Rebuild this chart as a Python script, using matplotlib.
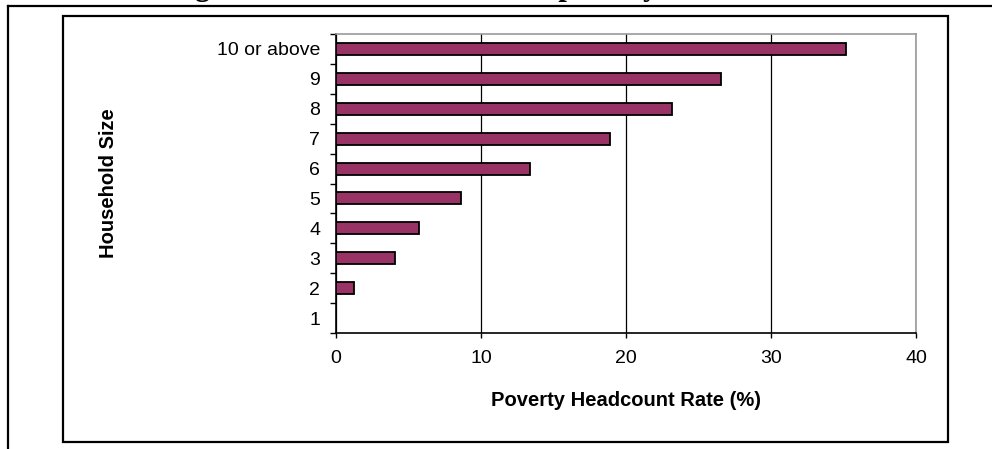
import matplotlib
matplotlib.use("Agg")
import matplotlib.pyplot as plt
from matplotlib.patches import Rectangle
from matplotlib.lines import Line2D
import numpy as np

# household size categories (bottom to top) and poverty headcount rate (%)
sizes = ['1', '2', '3', '4', '5', '6', '7', '8', '9', '10 or above']
rates = [0.0, 1.25, 4.05, 5.7, 8.6, 13.4, 18.9, 23.2, 26.55, 35.15]
xticks = [0, 10, 20, 30, 40]

W, H = 992, 449
plt.rcParams['font.family'] = ['Liberation Sans', 'DejaVu Sans']

fig = plt.figure(figsize=(W / 100, H / 100), dpi=100)

# plot area in pixel coords: x 336..916, y 34..333
left, right, top, bottom = 336, 916, 34, 333
ax = fig.add_axes([left / W, 1 - bottom / H, (right - left) / W, (bottom - top) / H])

y = np.arange(len(sizes))
ax.barh(y, rates, height=0.4, color='#993366', edgecolor='black', linewidth=1.3, zorder=3)

ax.set_xlim(0, 40)
ax.set_ylim(-0.5, len(sizes) - 0.5)
ax.set_xticks(xticks)
ax.set_xticklabels([str(t) for t in xticks], fontsize=14)
ax.set_yticks(y)
ax.set_yticklabels(sizes, fontsize=14)
ax.set_yticks(np.arange(len(sizes) + 1) - 0.5, minor=True)
ax.tick_params(axis='y', which='major', length=0, pad=11.5)
ax.tick_params(axis='y', which='minor', length=4.3, width=1, direction='out')
ax.tick_params(axis='x', which='major', length=3.5, width=1, direction='out', pad=9)

ax.grid(axis='x', color='black', linewidth=0.9, zorder=0)
ax.set_axisbelow(True)
for s in ['left', 'bottom']:
    ax.spines[s].set_color('black')
    ax.spines[s].set_linewidth(1.2)
for s in ['top', 'right']:
    ax.spines[s].set_color('#999999')
    ax.spines[s].set_linewidth(1.2)

ax.set_xlabel('Poverty Headcount Rate (%)', fontsize=14.5, fontweight='bold')
ax.xaxis.set_label_coords(0.5, (bottom - 400) / (bottom - top))
ax.xaxis.label.set_va('center')
ax.set_ylabel('Household Size', fontsize=14.5, fontweight='bold')
ax.yaxis.set_label_coords((108 - left) / (right - left), 0.5)
ax.yaxis.label.set_va('center')

# outer chart border
fig.add_artist(Rectangle((62.7 / W, 1 - 441.7 / H), (947.5 - 62.7) / W, (441.7 - 15.7) / H,
                         transform=fig.transFigure, fill=False, edgecolor='black', linewidth=1.6))
# page table lines
fig.add_artist(Line2D([7.5 / W, 1], [1 - 5.7 / H, 1 - 5.7 / H], transform=fig.transFigure,
                      color='black', linewidth=1.6))
fig.add_artist(Line2D([7.5 / W, 7.5 / W], [1 - 5.7 / H, 0], transform=fig.transFigure,
                      color='black', linewidth=1.6))

# caption cut off at the top of the image (only descenders show)
fig.text(168 / W, 1 + 5.5 / H, 'Figure 4: Household Size and poverty', ha='left', va='baseline',
         fontsize=22, fontweight='bold', family=['Liberation Serif', 'DejaVu Serif'])

fig.savefig('out.png', dpi=100)
